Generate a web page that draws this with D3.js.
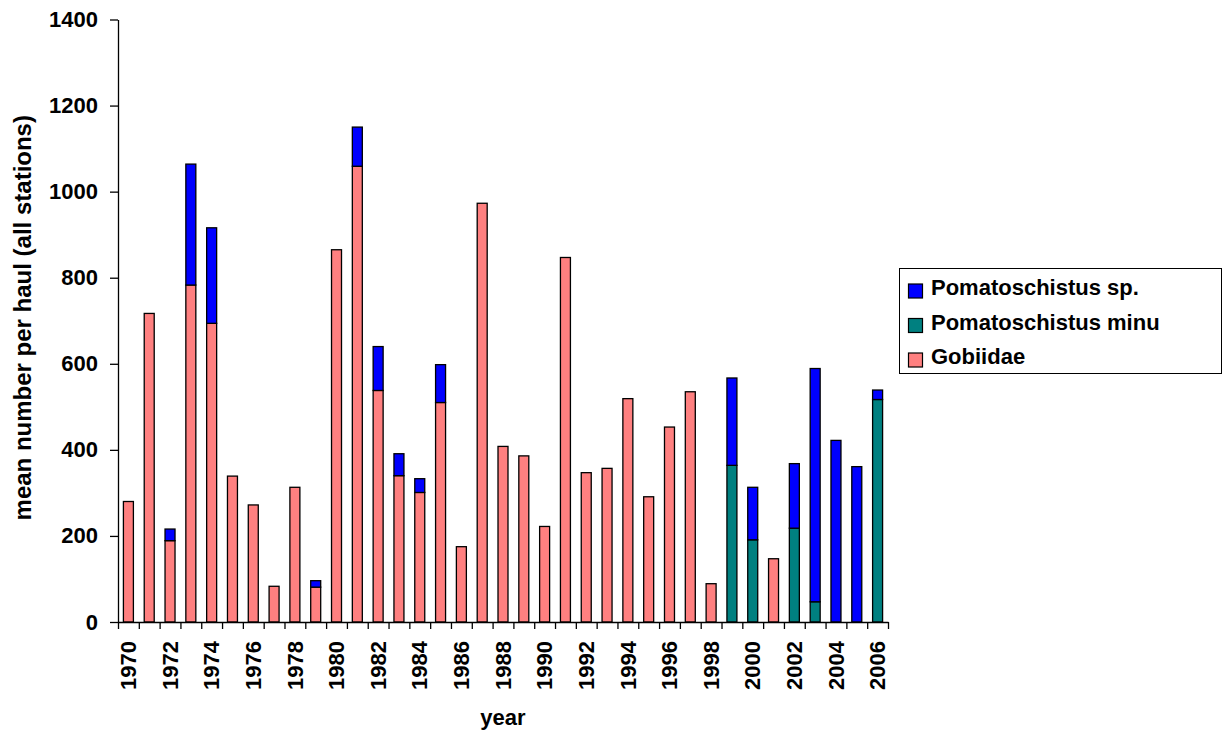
<!DOCTYPE html>
<html>
<head>
<meta charset="utf-8">
<script src="https://cdn.jsdelivr.net/npm/d3@7"></script>
<style>
  html, body { margin: 0; padding: 0; background: #fff; }
  svg { display: block; font-family: "Liberation Sans", Arial, sans-serif; font-weight: bold; }
</style>
</head>
<body>
<svg id="chart" width="1223" height="732"></svg>
<script>
// Mean number of gobies per haul (all stations), 1970–2006
const years = d3.range(1970, 2007).map(String);

const gobiidae = [280, 717, 189, 783, 694, 339, 272, 83, 313, 81,
                  865, 1059, 538, 340, 301, 510, 175, 973, 408, 386,
                  222, 847, 347, 357, 519, 291, 453, 535, 89, 0,
                  0, 147, 0, 0, 0, 0, 0];
const pomatoMinutus = [0, 0, 0, 0, 0, 0, 0, 0, 0, 0,
                       0, 0, 0, 0, 0, 0, 0, 0, 0, 0,
                       0, 0, 0, 0, 0, 0, 0, 0, 0, 364,
                       191, 0, 218, 47, 0, 0, 517];
const pomatoSp = [0, 0, 27, 281, 222, 0, 0, 0, 0, 15,
                  0, 91, 102, 51, 32, 88, 0, 0, 0, 0,
                  0, 0, 0, 0, 0, 0, 0, 0, 0, 203,
                  122, 0, 150, 542, 422, 361, 22];

const seriesNames = ["Gobiidae", "Pomatoschistus minu", "Pomatoschistus sp."];
const seriesColors = ["#FF8080", "#008080", "#0000FF"];
const legendOrder = ["Pomatoschistus sp.", "Pomatoschistus minu", "Gobiidae"];
const yTicks = [0, 200, 400, 600, 800, 1000, 1200, 1400];

const rows = years.map((y, i) => ({
  year: y,
  "Gobiidae": gobiidae[i],
  "Pomatoschistus minu": pomatoMinutus[i],
  "Pomatoschistus sp.": pomatoSp[i]
}));

const svg = d3.select("#chart");
const plot = { left: 118, right: 888, top: 19.5, bottom: 622 };

const x = d3.scaleBand()
  .domain(years)
  .range([plot.left, plot.right])
  .paddingInner(0.52)
  .paddingOuter(0.26);

const y = d3.scaleLinear()
  .domain([0, 1400])
  .range([plot.bottom, plot.top]);

const color = d3.scaleOrdinal().domain(seriesNames).range(seriesColors);

const stacked = d3.stack().keys(seriesNames)(rows);

// stacked bars
svg.append("g")
  .selectAll("g")
  .data(stacked)
  .join("g")
  .attr("fill", d => color(d.key))
  .selectAll("rect")
  .data(d => d.filter(s => s[1] - s[0] > 0))
  .join("rect")
  .attr("x", d => x(d.data.year))
  .attr("width", x.bandwidth())
  .attr("y", d => y(d[1]))
  .attr("height", d => y(d[0]) - y(d[1]))
  .attr("stroke", "#000")
  .attr("stroke-width", 1.3);

// y axis
const yAxis = svg.append("g")
  .attr("transform", `translate(${plot.left},0)`)
  .call(d3.axisLeft(y).tickValues(yTicks).tickFormat(d3.format("d")).tickSize(8).tickPadding(12).tickSizeOuter(0));
yAxis.select(".domain").attr("stroke", "#000").attr("stroke-width", 1.3);
yAxis.selectAll(".tick line").attr("stroke", "#000").attr("stroke-width", 1.3);
yAxis.selectAll(".tick text")
  .attr("fill", "#000")
  .style("font-size", "22px")
  .style("font-weight", "bold");

// x axis: tick marks on category boundaries
const xEdges = d3.scaleLinear().domain([0, years.length]).range([plot.left, plot.right]);
const xTickAxis = svg.append("g")
  .attr("transform", `translate(0,${plot.bottom})`)
  .call(d3.axisBottom(xEdges).tickValues(d3.range(years.length + 1)).tickFormat("").tickSize(7).tickSizeOuter(0));
xTickAxis.select(".domain").attr("stroke", "#000").attr("stroke-width", 1.3);
xTickAxis.selectAll(".tick line").attr("stroke", "#000").attr("stroke-width", 1.3);

// x labels: every second year, rotated
const xLabelAxis = svg.append("g")
  .attr("transform", `translate(0,${plot.bottom})`)
  .call(d3.axisBottom(x).tickValues(years.filter((d, i) => i % 2 === 0)).tickSize(0).tickPadding(0));
xLabelAxis.select(".domain").remove();
xLabelAxis.selectAll(".tick text")
  .attr("fill", "#000")
  .attr("transform", "rotate(-90)")
  .attr("x", -19)
  .attr("y", 0)
  .attr("dy", "0.35em")
  .attr("text-anchor", "end")
  .style("font-size", "22px")
  .style("font-weight", "bold");

// axis titles
svg.append("text")
  .attr("x", (plot.left + plot.right) / 2)
  .attr("y", 725)
  .attr("text-anchor", "middle")
  .style("font-size", "22px")
  .text("year");

svg.append("text")
  .attr("transform", `translate(31,${(plot.top + plot.bottom) / 2 - 3}) rotate(-90)`)
  .attr("text-anchor", "middle")
  .style("font-size", "24px")
  .text("mean number per haul (all stations)");

// legend
const legend = svg.append("g");
legend.append("rect")
  .attr("x", 899.5).attr("y", 268.5)
  .attr("width", 322).attr("height", 105)
  .attr("fill", "#fff").attr("stroke", "#000").attr("stroke-width", 1);

const items = legend.selectAll("g.item")
  .data(legendOrder)
  .join("g")
  .attr("class", "item")
  .attr("transform", (d, i) => `translate(0,${295 + i * 34.5})`);

items.append("rect")
  .attr("x", 908.5).attr("y", -11)
  .attr("width", 14).attr("height", 14)
  .attr("fill", d => color(d))
  .attr("stroke", "#000").attr("stroke-width", 1.2);

items.append("text")
  .attr("x", 931)
  .attr("y", 0)
  .style("font-size", "22px")
  .text(d => d);
</script>
</body>
</html>
